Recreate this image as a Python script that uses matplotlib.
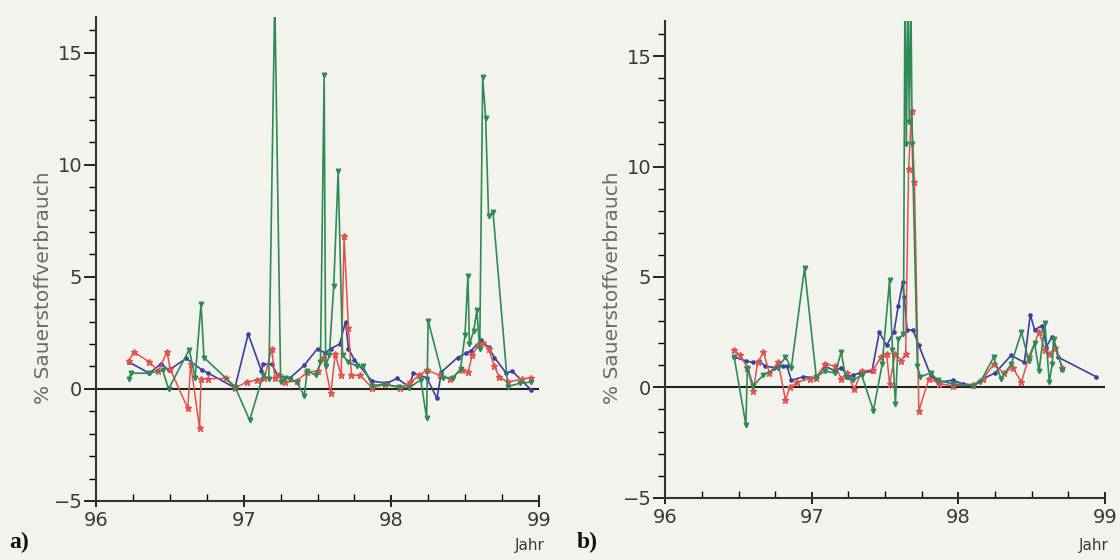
import matplotlib
matplotlib.use("Agg")
import matplotlib.pyplot as plt
from matplotlib.ticker import MultipleLocator

# Panel a) - measurement times (year) and oxygen consumption (%)
a_blue_x = [96.22, 96.36, 96.44, 96.49, 96.61, 96.72, 96.76, 96.94, 97.03, 97.12, 97.13, 97.19,
            97.23, 97.31, 97.41, 97.50, 97.55, 97.59, 97.65, 97.69, 97.71, 97.75, 97.87, 97.97,
            98.04, 98.12, 98.15, 98.24, 98.31, 98.34, 98.45, 98.51, 98.54, 98.61, 98.66, 98.70,
            98.78, 98.82, 98.95]
a_blue_y = [1.2, 0.7, 1.13, 0.83, 1.36, 0.83, 0.7, 0.05, 2.45, 0.8, 1.1, 1.1,
            0.6, 0.47, 1.05, 1.8, 1.6, 1.8, 2.0, 3.0, 1.8, 1.3, 0.35, 0.25,
            0.47, 0.1, 0.7, 0.5, -0.42, 0.75, 1.4, 1.6, 1.7, 2.17, 1.85, 1.4,
            0.7, 0.8, -0.06]

a_red_x = [96.22, 96.255, 96.36, 96.42, 96.48, 96.50, 96.62, 96.64, 96.70, 96.71, 96.76, 96.88,
           96.94, 97.02, 97.09, 97.14, 97.19, 97.21, 97.24, 97.28, 97.36, 97.43, 97.50, 97.54,
           97.59, 97.62, 97.66, 97.68, 97.71, 97.73, 97.79, 97.87, 97.96, 98.06, 98.13, 98.19,
           98.24, 98.33, 98.40, 98.48, 98.52, 98.55, 98.59, 98.62, 98.66, 98.70, 98.73, 98.79,
           98.89, 98.95]
a_red_y = [1.25, 1.65, 1.2, 0.8, 1.65, 0.9, -0.87, 1.1, -1.75, 0.45, 0.45, 0.47,
           0.05, 0.3, 0.4, 0.5, 1.8, 0.5, 0.6, 0.3, 0.35, 0.75, 0.8, 1.4,
           -0.2, 1.55, 0.6, 6.8, 2.7, 0.6, 0.6, 0.05, 0.2, 0.05, 0.3, 0.6,
           0.85, 0.6, 0.45, 0.85, 0.75, 1.5, 1.95, 2.05, 1.8, 1.0, 0.55, 0.3,
           0.45, 0.5]

a_green_x = [96.22, 96.235, 96.36, 96.45, 96.49, 96.63, 96.67, 96.71, 96.73, 96.94, 97.04, 97.13,
             97.17, 97.21, 97.25, 97.28, 97.31, 97.36, 97.41, 97.43, 97.49, 97.52, 97.545, 97.555,
             97.58, 97.61, 97.64, 97.67, 97.71, 97.77, 97.81, 97.87, 97.95, 98.05, 98.12, 98.20,
             98.24, 98.25, 98.35, 98.42, 98.47, 98.50, 98.52, 98.53, 98.56, 98.58, 98.60, 98.62,
             98.64, 98.66, 98.69, 98.79, 98.87, 98.95]
a_green_y = [0.45, 0.7, 0.7, 0.83, 0.0, 1.75, 0.5, 3.8, 1.4, 0.1, -1.4, 0.6,
             0.45, 17.5, 0.3, 0.5, 0.45, 0.3, -0.3, 0.8, 0.6, 1.2, 14.0, 1.0,
             1.5, 4.6, 9.7, 1.5, 1.2, 1.0, 1.0, 0.15, 0.2, 0.1, 0.05, 0.4,
             -1.3, 3.05, 0.5, 0.5, 0.9, 2.4, 5.05, 2.0, 2.6, 3.5, 1.8, 13.9,
             12.1, 7.7, 7.9, 0.1, 0.25, 0.3]

# Panel b)
b_blue_x = [96.47, 96.55, 96.60, 96.64, 96.68, 96.74, 96.80, 96.83, 96.86, 96.94, 97.03, 97.09,
            97.16, 97.20, 97.25, 97.28, 97.33, 97.41, 97.46, 97.51, 97.56, 97.59, 97.62, 97.63,
            97.65, 97.69, 97.73, 97.81, 97.86, 97.96, 98.03, 98.10, 98.17, 98.25, 98.36, 98.45,
            98.49, 98.52, 98.57, 98.60, 98.64, 98.68, 98.94]
b_blue_y = [1.37, 1.2, 1.13, 1.2, 0.97, 0.9, 0.97, 0.97, 0.32, 0.48, 0.44, 0.97,
            0.73, 0.9, 0.48, 0.56, 0.65, 0.73, 2.5, 1.9, 2.5, 3.7, 4.75, 4.1,
            2.6, 2.6, 1.9, 0.56, 0.24, 0.32, 0.16, 0.11, 0.4, 0.65, 1.45, 1.13,
            3.3, 2.6, 2.8, 1.85, 2.3, 1.37, 0.48]

b_red_x = [96.47, 96.51, 96.56, 96.60, 96.63, 96.67, 96.71, 96.77, 96.82, 96.85, 96.90, 96.99,
           97.03, 97.09, 97.16, 97.20, 97.24, 97.29, 97.34, 97.42, 97.47, 97.51, 97.53, 97.57,
           97.61, 97.64, 97.66, 97.68, 97.70, 97.73, 97.80, 97.87, 97.96, 98.10, 98.17, 98.24,
           98.31, 98.37, 98.43, 98.48, 98.55, 98.59, 98.62, 98.66, 98.71]
b_red_y = [1.7, 1.45, 0.9, -0.16, 1.13, 1.6, 0.65, 1.13, -0.56, 0.0, 0.24, 0.4,
           0.44, 1.05, 0.97, 0.4, 0.65, -0.08, 0.73, 0.8, 1.37, 1.53, 0.16, 1.53,
           1.2, 1.53, 9.9, 12.5, 9.3, -1.05, 0.4, 0.16, 0.08, 0.11, 0.4, 1.05,
           0.65, 0.9, 0.24, 1.37, 2.5, 1.7, 1.53, 1.77, 0.9]

b_green_x = [96.47, 96.55, 96.56, 96.60, 96.67, 96.77, 96.82, 96.86, 96.95, 97.03, 97.09, 97.16,
             97.20, 97.23, 97.28, 97.34, 97.42, 97.48, 97.53, 97.55, 97.57, 97.59, 97.625, 97.635,
             97.645, 97.655, 97.665, 97.675, 97.685, 97.72, 97.74, 97.81, 97.86, 97.96, 98.10, 98.15,
             98.24, 98.29, 98.36, 98.43, 98.48, 98.52, 98.55, 98.59, 98.62, 98.64, 98.65, 98.71]
b_green_y = [1.37, -1.7, 0.9, 0.08, 0.56, 0.9, 1.37, 0.9, 5.4, 0.48, 0.73, 0.65,
             1.6, 0.48, 0.32, 0.56, -1.05, 1.05, 4.85, 1.7, -0.73, 2.2, 2.4, 18.0,
             11.0, 18.0, 12.0, 18.0, 11.0, 0.97, 0.48, 0.65, 0.32, 0.16, 0.08, 0.24,
             1.37, 0.4, 1.05, 2.5, 1.2, 2.0, 0.73, 2.9, 0.24, 1.05, 2.2, 0.8]

blue = "#3b3f9e"
red = "#e2524c"
green = "#2f8a55"
paper = "#f3f3ee"
ink = "#3a3a3a"

fig = plt.figure(figsize=(11.2, 5.6), dpi=100, facecolor=paper)
ax_a = fig.add_axes([0.086, 0.1054, 0.395, 0.8646])
ax_b = fig.add_axes([0.594, 0.111, 0.3926, 0.852])

panels = [
    (ax_a, a_blue_x, a_blue_y, a_red_x, a_red_y, a_green_x, a_green_y, "a)", 0.008, 0.473),
    (ax_b, b_blue_x, b_blue_y, b_red_x, b_red_y, b_green_x, b_green_y, "b)", 0.515, 0.977),
]

for ax, bx, by, rx, ry, gx, gy, tag, tag_x, jahr_x in panels:
    ax.set_facecolor(paper)
    ax.plot(bx, by, color=blue, lw=1.2, marker="o", ms=2.3, zorder=3)
    ax.plot(rx, ry, color=red, lw=1.1, marker="*", ms=4.5, zorder=3)
    ax.plot(gx, gy, color=green, lw=1.2, marker="v", ms=3.3, zorder=4)
    ax.axhline(0, color="#222222", lw=1.5, zorder=2)

    ax.set_xlim(96, 99)
    ax.set_ylim(-5, 16.6)
    ax.set_xticks([96, 97, 98, 99])
    ax.set_yticks([-5, 0, 5, 10, 15])
    ax.set_yticklabels(["\u22125", "0", "5", "10", "15"])
    ax.xaxis.set_minor_locator(MultipleLocator(0.25))
    ax.yaxis.set_minor_locator(MultipleLocator(1))
    ax.tick_params(axis="y", which="major", direction="out", length=9, width=1.2,
                   labelsize=14, labelcolor=ink, pad=1)
    ax.tick_params(axis="y", which="minor", direction="out", length=5, width=1.0)
    ax.tick_params(axis="x", which="major", direction="inout", length=8, width=1.2,
                   labelsize=14, labelcolor=ink, pad=3)
    ax.tick_params(axis="x", which="minor", direction="in", length=5, width=1.0)

    for side in ["top", "right"]:
        ax.spines[side].set_visible(False)
    for side in ["left", "bottom"]:
        ax.spines[side].set_linewidth(1.5)
        ax.spines[side].set_color("#333333")

    fig.text(tag_x, 0.022, tag, fontsize=17, fontweight="bold",
             family="Liberation Serif", color="#111111")
    fig.text(jahr_x, 0.018, "Jahr", fontsize=11, color=ink, ha="center")

fig.text(0.039, 0.487, "% Sauerstoffverbrauch", rotation=90, fontsize=14.5,
         color="#6a6a6a", ha="center", va="center")
fig.text(0.547, 0.487, "% Sauerstoffverbrauch", rotation=90, fontsize=14.5,
         color="#6a6a6a", ha="center", va="center")

fig.savefig("out.png", dpi=100, facecolor=paper)
